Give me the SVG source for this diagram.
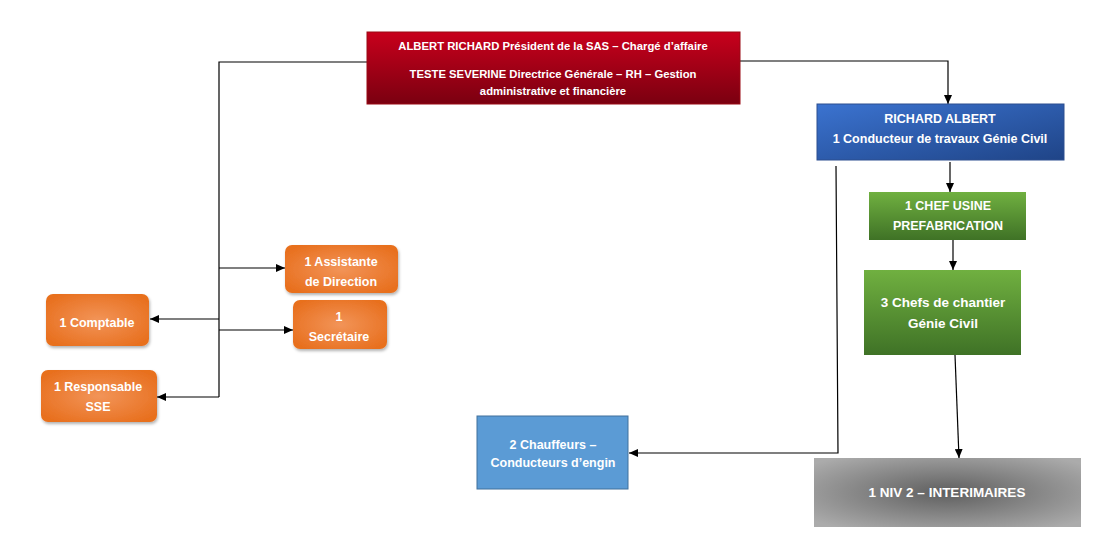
<svg xmlns="http://www.w3.org/2000/svg" width="1106" height="553" viewBox="0 0 1106 553">
<defs>
<linearGradient id="gRed" x1="0" y1="0" x2="0" y2="1"><stop offset="0" stop-color="#c8001c"/><stop offset="1" stop-color="#7a0010"/></linearGradient>
<linearGradient id="gBlue" x1="0" y1="0" x2="1" y2="1"><stop offset="0" stop-color="#3b73d0"/><stop offset="1" stop-color="#1f4487"/></linearGradient>
<linearGradient id="gGreen" x1="0" y1="0" x2="0" y2="1"><stop offset="0" stop-color="#70b040"/><stop offset="1" stop-color="#3f7226"/></linearGradient>
<radialGradient id="gOrange" cx="0.5" cy="0.5" r="0.6"><stop offset="0" stop-color="#f29458"/><stop offset="1" stop-color="#e8701f"/></radialGradient>
<radialGradient id="gGray" cx="0.5" cy="0.5" r="0.65"><stop offset="0" stop-color="#5f5f5f"/><stop offset="1" stop-color="#ababab"/></radialGradient>
<filter id="sh" x="-10%" y="-10%" width="130%" height="140%"><feDropShadow dx="1" dy="2" stdDeviation="1.5" flood-color="#000" flood-opacity="0.3"/></filter>
<marker id="ah" markerWidth="10" markerHeight="8" refX="9" refY="4" orient="auto" markerUnits="userSpaceOnUse"><path d="M0,0 L9,4 L0,8 z" fill="#000"/></marker>
</defs>
<style>
text{font-family:"Liberation Sans",Arial,sans-serif;font-weight:bold;fill:#fff;text-anchor:middle}
.s11{font-size:11.3px}
.s12{font-size:12.5px}
.s13{font-size:13.5px}
.orange{fill:url(#gOrange);filter:url(#sh)}
.con{fill:none;stroke:#000;stroke-width:1.2}
</style>
<rect width="1106" height="553" fill="#fff"/>
<g id="connectors">
<path class="con" d="M367,62 H219 V397"/>
<path class="con" d="M219,268 H285" marker-end="url(#ah)"/>
<path class="con" d="M219,319 H150" marker-end="url(#ah)"/>
<path class="con" d="M219,330 H293" marker-end="url(#ah)"/>
<path class="con" d="M219,397 H157" marker-end="url(#ah)"/>
<path class="con" d="M740,61 H948 V104" marker-end="url(#ah)"/>
<path class="con" d="M950,162 V192" marker-end="url(#ah)"/>
<path class="con" d="M953,240 V270" marker-end="url(#ah)"/>
<path class="con" d="M955,355 L959,458" marker-end="url(#ah)"/>
<path class="con" d="M836,166 L838,453 H629" marker-end="url(#ah)"/>
</g>
<g id="direction">
<rect x="367" y="32" width="373" height="72" fill="url(#gRed)" stroke="#9a0a14" stroke-width="1"/>
<text class="s11" x="553" y="50">ALBERT RICHARD Président de la SAS – Chargé d’affaire</text>
<text class="s11" x="553" y="78">TESTE SEVERINE Directrice Générale – RH – Gestion</text>
<text class="s11" x="553" y="95">administrative et financière</text>
</g>
<g id="conducteur">
<rect x="817" y="104" width="247" height="56" fill="url(#gBlue)" stroke="#2c4f8f" stroke-width="1"/>
<text class="s12" x="940" y="123">RICHARD ALBERT</text>
<text class="s12" x="940" y="143">1 Conducteur de travaux Génie Civil</text>
</g>
<g id="chef-usine">
<rect x="869" y="192" width="157" height="48" fill="url(#gGreen)"/>
<text class="s12" x="948" y="210">1 CHEF USINE</text>
<text class="s12" x="948" y="230">PREFABRICATION</text>
</g>
<g id="chefs-chantier">
<rect x="864" y="270" width="157" height="85" fill="url(#gGreen)"/>
<text class="s13" x="943" y="307">3 Chefs de chantier</text>
<text class="s13" x="943" y="328">Génie Civil</text>
</g>
<g id="interimaires">
<rect x="814" y="458" width="267" height="69" fill="url(#gGray)"/>
<text class="s13" x="947" y="497">1 NIV 2 – INTERIMAIRES</text>
</g>
<g id="chauffeurs">
<rect x="477" y="416" width="151" height="73" fill="#5b9bd5" stroke="#41719c" stroke-width="1"/>
<text class="s12" x="553" y="449">2 Chauffeurs –</text>
<text class="s12" x="553" y="467">Conducteurs d’engin</text>
</g>
<g id="assistante">
<rect class="orange" x="285" y="245" width="113" height="48" rx="7"/>
<text class="s12" x="341" y="266">1 Assistante</text>
<text class="s12" x="341" y="286">de Direction</text>
</g>
<g id="comptable">
<rect class="orange" x="46" y="294" width="103" height="52" rx="7"/>
<text class="s12" x="97" y="327">1 Comptable</text>
</g>
<g id="secretaire">
<rect class="orange" x="293" y="300" width="94" height="49" rx="7"/>
<text class="s12" x="339" y="321">1</text>
<text class="s12" x="339" y="341">Secrétaire</text>
</g>
<g id="sse">
<rect class="orange" x="41" y="370" width="116" height="52" rx="7"/>
<text class="s12" x="98" y="391">1 Responsable</text>
<text class="s12" x="98" y="411">SSE</text>
</g>
</svg>
